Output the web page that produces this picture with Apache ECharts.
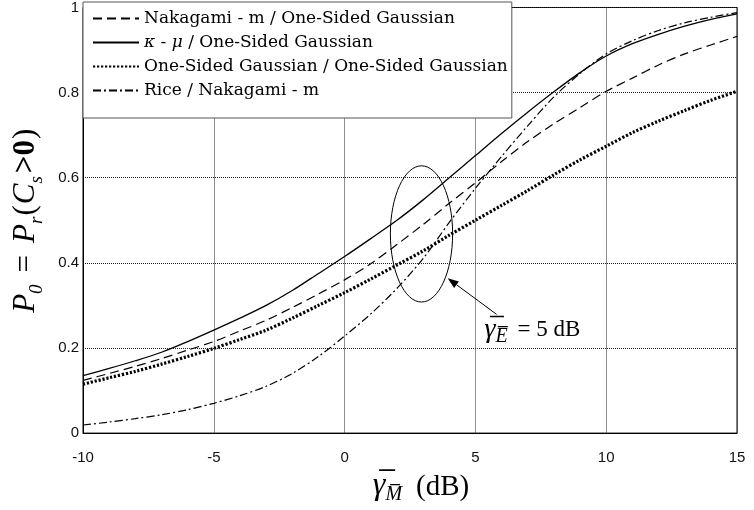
<!DOCTYPE html>
<html>

<head>
    <meta charset="utf-8">
    <title>P0 vs gamma_M</title>
    <script src="https://cdn.jsdelivr.net/npm/echarts@6/dist/echarts.min.js"></script>
    <style>
        body { margin: 0; background: #fff; }
        #main { width: 754px; height: 510px; }
    </style>
</head>

<body>
<div id="main"></div>
<script>
    // x axis: average SNR of main channel (dB)
    var snrM = [-10, -9, -8, -7, -6, -5, -4, -3, -2, -1, 0, 1, 2, 3, 4, 5, 6, 7, 8, 9, 10, 11, 12, 13, 14, 15];

    // probability of positive secrecy capacity
    var nakagamiOSG = [0.124, 0.140, 0.157, 0.175, 0.195, 0.215, 0.240, 0.265, 0.295, 0.327, 0.360, 0.398, 0.443, 0.490, 0.540, 0.588,
        0.638, 0.685, 0.727, 0.765, 0.803, 0.834, 0.865, 0.891, 0.912, 0.932];
    var kappaMuOSG = [0.135, 0.152, 0.170, 0.190, 0.215, 0.242, 0.270, 0.300, 0.335, 0.375, 0.415, 0.457, 0.500, 0.548, 0.600, 0.652,
        0.704, 0.754, 0.802, 0.847, 0.886, 0.915, 0.937, 0.956, 0.972, 0.985];
    var osgOSG = [0.115, 0.130, 0.145, 0.162, 0.180, 0.199, 0.220, 0.242, 0.270, 0.300, 0.330, 0.362, 0.395, 0.428, 0.465, 0.500,
        0.535, 0.570, 0.607, 0.642, 0.674, 0.706, 0.733, 0.758, 0.782, 0.803];
    var riceNakagami = [0.019, 0.026, 0.034, 0.043, 0.055, 0.070, 0.088, 0.110, 0.140, 0.180, 0.228, 0.280, 0.340, 0.410, 0.495, 0.575,
        0.650, 0.722, 0.790, 0.845, 0.891, 0.922, 0.946, 0.964, 0.977, 0.988];

    var seriesNames = ['Nakagami - m / One-Sided Gaussian', 'κ - μ / One-Sided Gaussian',
        'One-Sided Gaussian / One-Sided Gaussian', 'Rice / Nakagami - m'];

    var xTicks = [-10, -5, 0, 5, 10, 15];
    var yTicks = [0, 0.2, 0.4, 0.6, 0.8, 1];

    // annotation (data coords): ellipse around the curves at ~3 dB, arrow and label
    var ellipseCenter = [2.94, 0.468];
    var ellipseRadius = [1.19, 0.16];
    var arrowFrom = [5.81, 0.279];
    var arrowTo = [3.94, 0.364];
    var labelAt = [5.35, 0.243];

    function pairs(ys) {
        return snrM.map(function (x, i) { return [x, ys[i]]; });
    }

    var serif = 'Liberation Serif';
    var legendFont = 'DejaVu Serif';
    var sans = 'Liberation Sans';

    var myChart = echarts.init(document.getElementById('main'));

    var option = {
        animation: false,
        backgroundColor: '#fff',
        grid: {
            left: 83, right: 17, top: 2, bottom: 71,
            show: true, borderColor: '#000', borderWidth: 1
        },
        legend: {
            orient: 'vertical',
            left: 83, top: 2,
            padding: [8, 4, 19, 9],
            itemGap: 7,
            itemWidth: 46,
            itemHeight: 14,
            backgroundColor: '#fff',
            borderColor: '#555',
            borderWidth: 1,
            data: seriesNames,
            itemStyle: { color: 'rgba(0,0,0,0)', borderWidth: 0 },
            textStyle: {
                fontFamily: legendFont, fontSize: 17, color: '#000', lineHeight: 14,
                rich: {
                    i: { fontFamily: legendFont, fontSize: 17, fontStyle: 'italic', color: '#000', lineHeight: 14 }
                }
            },
            formatter: function (name) {
                if (name === seriesNames[1]) return '{i|κ} - {i|μ} / One-Sided Gaussian';
                return name;
            }
        },
        xAxis: {
            type: 'value',
            min: xTicks[0], max: xTicks[xTicks.length - 1], interval: 5,
            axisLine: { show: true, onZero: false, lineStyle: { color: '#000', width: 1 } },
            axisTick: { show: false },
            axisLabel: { margin: 17, fontFamily: sans, fontSize: 15, color: '#111' },
            splitLine: { show: true, lineStyle: { color: '#222', type: [1, 1], width: 1 } },
            name: '{g|γ̅}{s|M̅}{n|(dB)}',
            nameLocation: 'middle',
            nameGap: 32,
            nameTextStyle: {
                padding: [0, 0, 0, 22],
                rich: {
                    g: { fontFamily: serif, fontStyle: 'italic', fontSize: 32, color: '#000', verticalAlign: 'bottom' },
                    s: { fontFamily: serif, fontStyle: 'italic', fontSize: 20, color: '#000', verticalAlign: 'bottom', padding: [0, 0, -3, 0] },
                    n: { fontFamily: serif, fontSize: 29, color: '#000', verticalAlign: 'bottom', padding: [0, 0, 0, 14] }
                },
                fontFamily: serif, fontSize: 29, color: '#000'
            }
        },
        yAxis: {
            type: 'value',
            min: yTicks[0], max: yTicks[yTicks.length - 1], interval: 0.2,
            axisLine: { show: true, onZero: false, lineStyle: { color: '#000', width: 1 } },
            axisTick: { show: false },
            axisLabel: { margin: 4, fontFamily: sans, fontSize: 15, color: '#111' },
            splitLine: { show: true, lineStyle: { color: '#222', type: [1, 1], width: 1 } },
            name: '{i|P}{s|0}{e|=}{i|P}{s|r}{n|(}{i|C}{s|s}{b|>0}{n|)}',
            nameLocation: 'middle',
            nameGap: 42,
            nameTextStyle: {
                fontFamily: serif, fontSize: 31, color: '#000',
                rich: {
                    i: { fontFamily: serif, fontStyle: 'italic', fontSize: 31, color: '#000', verticalAlign: 'bottom' },
                    s: { fontFamily: serif, fontStyle: 'italic', fontSize: 19, color: '#000', verticalAlign: 'bottom', padding: [0, 0, -5, 0] },
                    e: { fontFamily: serif, fontSize: 31, color: '#000', verticalAlign: 'bottom', padding: [0, 12, 0, 12] },
                    n: { fontFamily: serif, fontSize: 31, color: '#000', verticalAlign: 'bottom', padding: [0, 1, 0, 1] },
                    b: { fontFamily: serif, fontWeight: 'bold', fontSize: 31, color: '#000', verticalAlign: 'bottom', padding: [0, 0, 0, 3] }
                }
            }
        },
        series: [
            {
                name: seriesNames[0], type: 'line', data: pairs(nakagamiOSG),
                symbol: 'none', smooth: 0.3,
                lineStyle: { color: '#000', width: 1.2, type: [9, 5] },
                itemStyle: { color: '#000' }
            },
            {
                name: seriesNames[1], type: 'line', data: pairs(kappaMuOSG),
                symbol: 'none', smooth: 0.3,
                lineStyle: { color: '#000', width: 1.3, type: 'solid' },
                itemStyle: { color: '#000' }
            },
            {
                name: seriesNames[2], type: 'line', data: pairs(osgOSG),
                symbol: 'none', smooth: 0.3,
                lineStyle: { color: '#000', width: 3.2, type: [2.2, 1.8] },
                itemStyle: { color: '#000' }
            },
            {
                name: seriesNames[3], type: 'line', data: pairs(riceNakagami),
                symbol: 'none', smooth: 0.3,
                lineStyle: { color: '#000', width: 1.2, type: [8, 3, 2, 3] },
                itemStyle: { color: '#000' }
            }
        ]
    };

    myChart.setOption(option);

    // annotation drawn in pixel space from data coordinates
    var c = myChart.convertToPixel({ gridIndex: 0 }, ellipseCenter);
    var r0 = myChart.convertToPixel({ gridIndex: 0 }, [ellipseCenter[0] + ellipseRadius[0], ellipseCenter[1] + ellipseRadius[1]]);
    var a0 = myChart.convertToPixel({ gridIndex: 0 }, arrowFrom);
    var a1 = myChart.convertToPixel({ gridIndex: 0 }, arrowTo);
    var lb = myChart.convertToPixel({ gridIndex: 0 }, labelAt);

    var dx = a1[0] - a0[0], dy = a1[1] - a0[1];
    var len = Math.sqrt(dx * dx + dy * dy);
    var ux = dx / len, uy = dy / len;
    var headL = 11, headW = 4;
    var bx = a1[0] - ux * headL, by = a1[1] - uy * headL;

    myChart.setOption({
        graphic: [
            {
                type: 'ellipse',
                shape: { cx: c[0], cy: c[1], rx: Math.abs(r0[0] - c[0]), ry: Math.abs(c[1] - r0[1]) },
                style: { fill: 'none', stroke: '#000', lineWidth: 1 },
                z: 100
            },
            {
                type: 'line',
                shape: { x1: a0[0], y1: a0[1], x2: bx, y2: by },
                style: { stroke: '#000', lineWidth: 1 },
                z: 100
            },
            {
                type: 'polygon',
                shape: {
                    points: [
                        [a1[0], a1[1]],
                        [bx - uy * headW, by + ux * headW],
                        [bx + uy * headW, by - ux * headW]
                    ]
                },
                style: { fill: '#000' },
                z: 100
            },
            {
                type: 'text',
                x: lb[0], y: lb[1],
                style: {
                    text: '{g|γ̅}{s|E̅} = 5 dB',
                    fill: '#000',
                    font: '23px "Liberation Serif"',
                    verticalAlign: 'middle',
                    rich: {
                        g: { fontFamily: serif, fontStyle: 'italic', fontSize: 28, fill: '#000', verticalAlign: 'bottom' },
                        s: { fontFamily: serif, fontStyle: 'italic', fontSize: 20, fill: '#000', verticalAlign: 'bottom', padding: [0, 4, -3, 0] }
                    }
                },
                z: 100
            }
        ]
    });
</script>
</body>

</html>
